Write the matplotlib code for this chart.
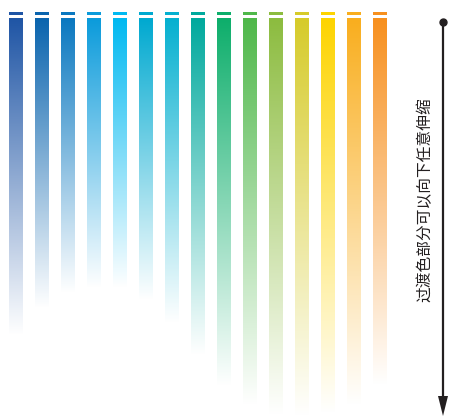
import numpy as np
import matplotlib
matplotlib.use("Agg")
import matplotlib.pyplot as plt
from matplotlib.colors import to_rgb

plt.rcParams['font.family'] = ['Noto Sans CJK SC', 'DejaVu Sans']

# Data
colors = ["#1F55A5", "#0A64AE", "#0A78C0", "#0B9BDB", "#00B9F1",
          "#00A9D0", "#05B0D0", "#00A99D", "#0DAE6B", "#4FB84A",
          "#8CBC3F", "#D6CB2A", "#FDD400", "#F9AE1E", "#F7901E"]
bar_ends = [335, 308, 293, 288, 288, 300, 323, 355, 386, 405, 415, 416, 413, 405, 385]
label = "过渡色部分可以向下任意伸缩"

W, H = 449, 418
fig = plt.figure(figsize=(W / 100, H / 100), dpi=100)
ax = fig.add_axes([0, 0, 1, 1])
ax.set_xlim(0, W)
ax.set_ylim(H, 0)
ax.axis('off')

x0, step, bw = 9, 26, 14
cap_top, cap_bot, bar_top = 12, 15, 18

for i, (c, end) in enumerate(zip(colors, bar_ends)):
    left = x0 + i * step
    rgb = np.array(to_rgb(c))
    # cap
    ax.add_patch(plt.Rectangle((left, cap_top), bw, cap_bot - cap_top,
                               color=c, lw=0))
    # gradient body fading to white
    n = 256
    t = np.linspace(0, 1, n)[:, None]
    col = (1 - t) * rgb[None, :] + t * np.ones(3)[None, :]
    img = col[:, None, :]
    ax.imshow(img, extent=(left, left + bw, end, bar_top), aspect='auto',
              interpolation='bilinear', origin='upper')

ax.set_xlim(0, W)
ax.set_ylim(H, 0)

# arrow
ax_x = 443
ax.plot([ax_x, ax_x], [22, 398], color="#231F20", lw=1.6, solid_capstyle='butt')
ax.plot([ax_x], [22], marker='o', color="#231F20", ms=5)
ax.add_patch(plt.Polygon([[ax_x - 5, 396], [ax_x + 5, 396], [ax_x, 416]],
                         closed=True, color="#231F20", lw=0))

ax.text(425, 200, label, rotation=90, ha='center', va='center',
        fontsize=11.3, color="#231F20")

fig.savefig("out.png", dpi=100)
